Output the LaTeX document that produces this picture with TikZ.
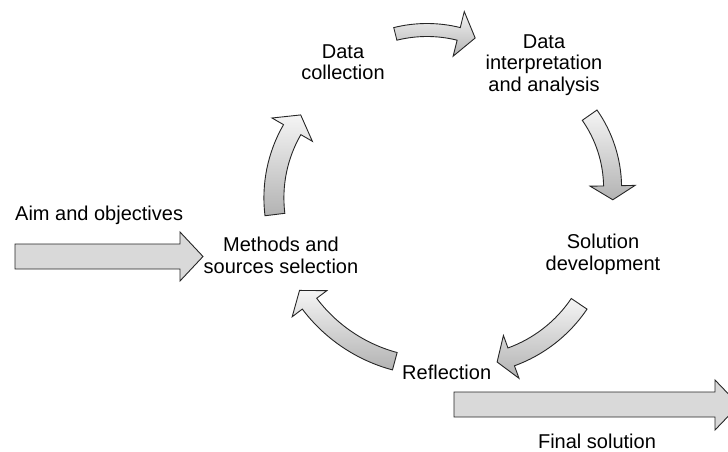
\documentclass[tikz,border=0pt]{standalone}
\usepackage{fontspec}
\setmainfont{Liberation Sans}
\begin{document}
\begin{tikzpicture}[x=1pt,y=-1pt,
  lbl/.style={font=\fontsize{20}{21.5}\selectfont, inner sep=0pt, align=center, text=black},
  curvarrow/.style={draw=black!85, line width=0.9pt, line join=miter, top color=black!4, bottom color=black!30},
  flatarrow/.style={draw=black!85, line width=0.9pt, fill=black!15}]
\useasboundingbox (0,0) rectangle (728,452);
\clip (0,0) rectangle (728,452);
\newcommand{\bentarrow}[8]{%
  \pgfmathsetmacro{\bsg}{(#5>#4)?1:-1}%
  \pgfmathsetmacro{\bta}{#5+\bsg*atan(#8/#3)}%
  \pgfmathsetmacro{\btr}{veclen(#3,#8)}%
  \pgfmathsetmacro{\bro}{#3+#6}\pgfmathsetmacro{\bri}{#3-#6}%
  \pgfmathsetmacro{\bho}{#3+#7}\pgfmathsetmacro{\bhi}{#3-#7}%
  \path[curvarrow] ([shift={(#1,#2)}]#4:\bro) arc[start angle=#4,end angle=#5,radius=\bro]
    -- ([shift={(#1,#2)}]#5:\bho) -- ([shift={(#1,#2)}]\bta:\btr)
    -- ([shift={(#1,#2)}]#5:\bhi) -- ([shift={(#1,#2)}]#5:\bri)
    arc[start angle=#5,end angle=#4,radius=\bri] -- cycle;}
% curved cycle arrows
\bentarrow{427}{161}{131}{-104}{-76}{6.5}{23}{17}
\bentarrow{485.6}{188}{127}{-35}{-1}{9}{22.5}{14}
\bentarrow{463.5}{225.8}{139.5}{34}{70}{9.5}{22.8}{15}
\bentarrow{435.7}{208.6}{158}{105}{143}{9}{21.7}{16.6}
\bentarrow{410.4}{197.9}{136.5}{173}{210}{10}{23.3}{17}
% straight arrows
\path[flatarrow] (15,244) -- (180,244) -- (180,232) -- (203,256.5) -- (180,281) -- (180,269) -- (15,269) -- cycle;
\path[flatarrow] (454,392) -- (715,392) -- (715,380) -- (739,405) -- (715,430) -- (715,417) -- (454,417) -- cycle;
% labels
\node[lbl, anchor=base] (collect) at (343,80) {Data\\collection};
\node[lbl, anchor=base] (interp) at (544,91) {Data\\interpretation\\and analysis};
\node[lbl, anchor=base] (soldev) at (603,270) {Solution\\development};
\node[lbl, anchor=base] (methods) at (281,273) {Methods and\\sources selection};
\node[lbl, anchor=base west] (reflect) at (402,379) {Reflection};
\node[lbl, anchor=base west] (aim) at (15,220) {Aim and objectives};
\node[lbl, anchor=base] (final) at (597,448) {Final solution};
\end{tikzpicture}
\end{document}
